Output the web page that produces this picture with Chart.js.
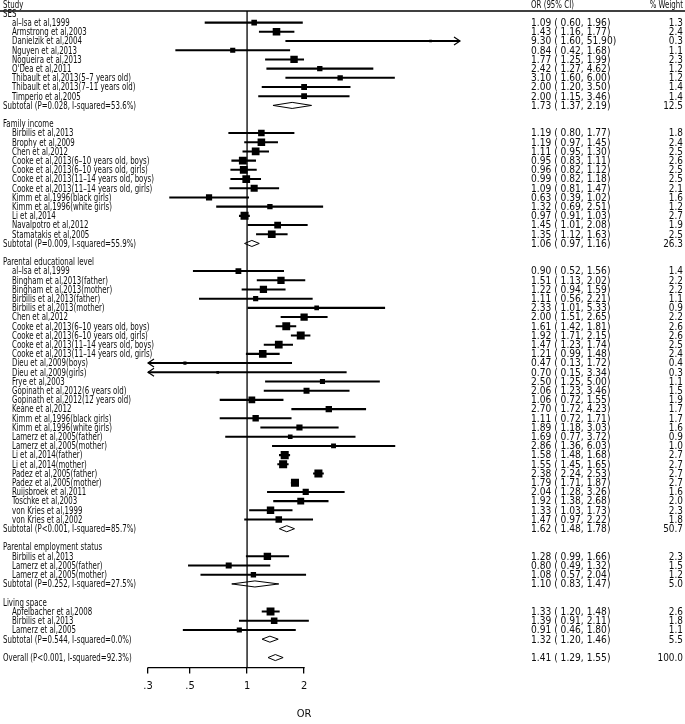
<!DOCTYPE html>
<html>
<head>
<meta charset="utf-8">
<script src="https://cdn.jsdelivr.net/npm/chart.js@4.4.1/dist/chart.umd.min.js"></script>
<style>
  html, body { margin: 0; padding: 0; background: #fff; }
  canvas { display: block; }
</style>
</head>
<body>
<canvas id="forest" width="685" height="724"></canvas>
<script>
// One entry per row, top to bottom (row 1 = first line under the header).
// g = group heading, s = study, t = subtotal / overall, b = blank spacer
const rowKinds = [
  'g','s','s','s','s','s','s','s','s','s','t','b',
  'g','s','s','s','s','s','s','s','s','s','s','s','s','t','b',
  'g','s','s','s','s','s','s','s','s','s','s','s','s','s','s','s','s','s','s','s','s','s','s','s','s','s','s','s','s','t','b',
  'g','s','s','s','t','b',
  'g','s','s','s','t','b',
  't'
];
const rowLabels = [
  'SES', 'al–Isa et al,1999', 'Armstrong et al,2003', 'Danielzik et al,2004', 'Nguyen et al,2013',
  'Nogueira et al,2013', "O'Dea et al,2011", 'Thibault et al,2013(5–7 years old)',
  'Thibault et al,2013(7–11 years old)', 'Timperio et al,2005', 'Subtotal (P=0.028, I-squared=53.6%)', '',
  'Family income', 'Birbilis et al,2013', 'Brophy et al,2009', 'Chen et al,2012',
  'Cooke et al,2013(6–10 years old, boys)', 'Cooke et al,2013(6–10 years old, girls)',
  'Cooke et al,2013(11–14 years old, boys)', 'Cooke et al,2013(11–14 years old, girls)',
  'Kimm et al,1996(black girls)', 'Kimm et al,1996(white girls)', 'Li et al,2014',
  'Navalpotro et al,2012', 'Stamatakis et al,2005', 'Subtotal (P=0.009, I-squared=55.9%)', '',
  'Parental educational level', 'al–Isa et al,1999', 'Bingham et al,2013(father)', 'Bingham et al,2013(mother)',
  'Birbilis et al,2013(father)', 'Birbilis et al,2013(mother)', 'Chen et al,2012',
  'Cooke et al,2013(6–10 years old, boys)', 'Cooke et al,2013(6–10 years old, girls)',
  'Cooke et al,2013(11–14 years old, boys)', 'Cooke et al,2013(11–14 years old, girls)',
  'Dieu et al,2009(boys)', 'Dieu et al,2009(girls)', 'Frye et al,2003',
  'Gopinath et al,2012(6 years old)', 'Gopinath et al,2012(12 years old)', 'Keane et al,2012',
  'Kimm et al,1996(black girls)', 'Kimm et al,1996(white girls)', 'Lamerz et al,2005(father)',
  'Lamerz et al,2005(mother)', 'Li et al,2014(father)', 'Li et al,2014(mother)',
  'Padez et al,2005(father)', 'Padez et al,2005(mother)', 'Ruijsbroek et al,2011', 'Toschke et al,2003',
  'von Kries et al,1999', 'von Kries et al,2002', 'Subtotal (P<0.001, I-squared=85.7%)', '',
  'Parental employment status', 'Birbilis et al,2013', 'Lamerz et al,2005(father)', 'Lamerz et al,2005(mother)',
  'Subtotal (P=0.252, I-squared=27.5%)', '',
  'Living space', 'Apfelbacher et al,2008', 'Birbilis et al,2013', 'Lamerz et al,2005',
  'Subtotal (P=0.544, I-squared=0.0%)', '',
  'Overall (P<0.001, I-squared=92.3%)'
];
const orEst = [
  null, 1.09, 1.43, 9.30, 0.84, 1.77, 2.42, 3.10, 2.00, 2.00, 1.73, null,
  null, 1.19, 1.19, 1.11, 0.95, 0.96, 0.99, 1.09, 0.63, 1.32, 0.97, 1.45, 1.35, 1.06, null,
  null, 0.90, 1.51, 1.22, 1.11, 2.33, 2.00, 1.61, 1.92, 1.47, 1.21, 0.47, 0.70, 2.50, 2.06, 1.06,
  2.70, 1.11, 1.89, 1.69, 2.86, 1.58, 1.55, 2.38, 1.79, 2.04, 1.92, 1.33, 1.47, 1.62, null,
  null, 1.28, 0.80, 1.08, 1.10, null,
  null, 1.33, 1.39, 0.91, 1.32, null,
  1.41
];
const ciLow = [
  null, 0.60, 1.16, 1.60, 0.42, 1.25, 1.27, 1.60, 1.20, 1.15, 1.37, null,
  null, 0.80, 0.97, 0.95, 0.83, 0.82, 0.82, 0.81, 0.39, 0.69, 0.91, 1.01, 1.12, 0.97, null,
  null, 0.52, 1.13, 0.94, 0.56, 1.01, 1.51, 1.42, 1.71, 1.23, 0.99, 0.13, 0.15, 1.25, 1.23, 0.72,
  1.72, 0.72, 1.18, 0.77, 1.36, 1.48, 1.45, 2.24, 1.71, 1.28, 1.38, 1.03, 0.97, 1.48, null,
  null, 0.99, 0.49, 0.57, 0.83, null,
  null, 1.20, 0.91, 0.46, 1.20, null,
  1.29
];
const ciHigh = [
  null, 1.96, 1.77, 51.90, 1.68, 1.99, 4.62, 6.00, 3.50, 3.46, 2.19, null,
  null, 1.77, 1.45, 1.30, 1.11, 1.12, 1.18, 1.47, 1.02, 2.51, 1.03, 2.08, 1.63, 1.16, null,
  null, 1.56, 2.02, 1.59, 2.21, 5.33, 2.65, 1.81, 2.15, 1.74, 1.48, 1.72, 3.34, 5.00, 3.46, 1.55,
  4.23, 1.71, 3.03, 3.72, 6.03, 1.68, 1.65, 2.53, 1.87, 3.26, 2.68, 1.73, 2.22, 1.78, null,
  null, 1.66, 1.32, 2.04, 1.47, null,
  null, 1.48, 2.11, 1.80, 1.46, null,
  1.55
];
const weightPct = [
  null, 1.3, 2.4, 0.3, 1.1, 2.3, 1.2, 1.2, 1.4, 1.4, 12.5, null,
  null, 1.8, 2.4, 2.5, 2.6, 2.5, 2.5, 2.1, 1.6, 1.2, 2.7, 1.9, 2.5, 26.3, null,
  null, 1.4, 2.2, 2.2, 1.1, 0.9, 2.2, 2.6, 2.6, 2.5, 2.4, 0.4, 0.3, 1.1, 1.5, 1.9,
  1.7, 1.7, 1.6, 0.9, 1.0, 2.7, 2.7, 2.7, 2.7, 1.6, 2.0, 2.3, 1.8, 50.7, null,
  null, 2.3, 1.5, 1.2, 5.0, null,
  null, 2.6, 1.8, 1.1, 5.5, null,
  100.0
];
const tickValues = [0.3, 0.5, 1, 2];
const tickLabels = ['.3', '.5', '1', '2'];

const FONT = "'Liberation Sans Narrow', 'DejaVu Sans Condensed', 'Arial Narrow', sans-serif";
const INK = '#0d0d0d';
const X_MIN = 0.3, X_MAX = 13.3;
const Y_TOP = 0.74, Y_BOTTOM = 72.09;   // row units at the header rule and at the axis
const SQUEEZE = 0.71;                     // the source font is a condensed face

const rowOf = i => i + 1;

// CI whiskers as floating horizontal bars, boxes as square points
const ciBars = [], boxes = [], boxSizes = [];
rowKinds.forEach((k, i) => {
  if (k !== 's') return;
  ciBars.push({ y: rowOf(i), x: [ciLow[i], ciHigh[i]] });
  boxes.push({ x: orEst[i], y: rowOf(i) });
  boxSizes.push(3.46 * Math.sqrt(weightPct[i]));
});

// hollow diamonds for the pooled rows
const diamondSets = [];
rowKinds.forEach((k, i) => {
  if (k !== 't') return;
  const r = rowOf(i), h = 0.33;
  diamondSets.push({
    type: 'line',
    data: [
      { x: ciLow[i], y: r }, { x: orEst[i], y: r - h },
      { x: ciHigh[i], y: r }, { x: orEst[i], y: r + h }, { x: ciLow[i], y: r }
    ],
    borderColor: '#000', borderWidth: 1, pointRadius: 0, fill: false, tension: 0
  });
});

// draws text squeezed horizontally around its anchor
function squeezed(ctx, str, x, y, align, sx) {
  ctx.save();
  ctx.translate(x, y);
  ctx.scale(sx, 1);
  ctx.textAlign = align;
  ctx.fillText(str, 0, 0);
  ctx.restore();
}

// Texts, header rule, axis line and clipping arrows
const forestText = {
  id: 'forestText',
  afterDraw(chart) {
    const { ctx, chartArea } = chart;
    const xs = chart.scales.x, ys = chart.scales.y;
    ctx.save();

    // header rule
    ctx.strokeStyle = '#000';
    ctx.lineWidth = 1.5;
    ctx.beginPath();
    ctx.moveTo(0, chartArea.top);
    ctx.lineTo(685, chartArea.top);
    ctx.stroke();

    // x axis line only between the first and last tick
    ctx.lineWidth = 1.3;
    ctx.beginPath();
    ctx.moveTo(xs.getPixelForValue(tickValues[0]) - 0.6, chartArea.bottom);
    ctx.lineTo(xs.getPixelForValue(tickValues[tickValues.length - 1]) + 0.6, chartArea.bottom);
    ctx.stroke();

    // arrows where a CI runs off the plotted range
    ctx.lineWidth = 1.2;
    rowKinds.forEach((k, i) => {
      if (k !== 's') return;
      const y = ys.getPixelForValue(rowOf(i));
      if (ciHigh[i] > X_MAX) {
        const x = xs.right;
        ctx.beginPath();
        ctx.moveTo(x - 6, y - 4); ctx.lineTo(x, y); ctx.lineTo(x - 6, y + 4);
        ctx.stroke();
      }
      if (ciLow[i] < X_MIN) {
        const x = xs.left;
        ctx.beginPath();
        ctx.moveTo(x + 6, y - 4); ctx.lineTo(x, y); ctx.lineTo(x + 6, y + 4);
        ctx.stroke();
      }
    });

    ctx.fillStyle = INK;
    ctx.font = `11px ${FONT}`;
    ctx.textBaseline = 'middle';

    // column headers
    const y0 = ys.getPixelForValue(0) + 0.5;
    squeezed(ctx, 'Study', 3, y0, 'left', SQUEEZE);
    squeezed(ctx, 'OR (95% CI)', 531, y0, 'left', SQUEEZE);
    squeezed(ctx, '% Weight', 683, y0, 'right', SQUEEZE);

    rowKinds.forEach((k, i) => {
      if (k === 'b') return;
      const y = ys.getPixelForValue(rowOf(i)) + 0.5;
      squeezed(ctx, rowLabels[i], k === 's' ? 12 : 3, y, 'left', SQUEEZE);
      if (orEst[i] === null) return;
      squeezed(ctx, `${orEst[i].toFixed(2)} ( ${ciLow[i].toFixed(2)}, ${ciHigh[i].toFixed(2)})`, 531, y, 'left', 0.92);
      squeezed(ctx, weightPct[i].toFixed(1), 683, y, 'right', 0.9);
    });
    ctx.restore();
  }
};

new Chart(document.getElementById('forest'), {
  type: 'bar',
  data: {
    datasets: [
      {
        type: 'line',
        data: [{ x: 1, y: Y_TOP }, { x: 1, y: Y_BOTTOM }],
        borderColor: '#000', borderWidth: 1.3, pointRadius: 0
      },
      {
        type: 'bar',
        indexAxis: 'y',
        data: ciBars,
        backgroundColor: '#000',
        borderWidth: 0,
        barThickness: 1.4,
        grouped: false
      },
      {
        type: 'scatter',
        data: boxes,
        pointStyle: 'rect',
        pointRadius: boxSizes,
        backgroundColor: '#000',
        borderWidth: 0
      },
      ...diamondSets
    ]
  },
  options: {
    responsive: false,
    animation: false,
    devicePixelRatio: 1,
    indexAxis: 'y',
    layout: { padding: { left: 148, right: 685 - 460, top: 11, bottom: 0 } },
    plugins: { legend: { display: false }, tooltip: { enabled: false } },
    scales: {
      x: {
        type: 'logarithmic',
        position: 'bottom',
        min: X_MIN,
        max: X_MAX,
        afterBuildTicks: axis => { axis.ticks = tickValues.map(v => ({ value: v })); },
        ticks: {
          callback: (v, i) => tickLabels[i],
          autoSkip: false,
          maxRotation: 0,
          color: INK,
          padding: 6,
          font: { family: FONT, size: 11 }
        },
        grid: { drawOnChartArea: false, drawTicks: true, tickLength: 6, color: '#000', lineWidth: 1.3 },
        border: { display: false },
        title: {
          display: true,
          text: 'OR',
          color: INK,
          font: { family: FONT, size: 11 },
          padding: { top: 9, bottom: 3 }
        }
      },
      y: {
        type: 'linear',
        reverse: true,
        offset: false,
        min: Y_TOP,
        max: Y_BOTTOM,
        display: false
      }
    }
  },
  plugins: [forestText]
});
</script>
</body>
</html>
